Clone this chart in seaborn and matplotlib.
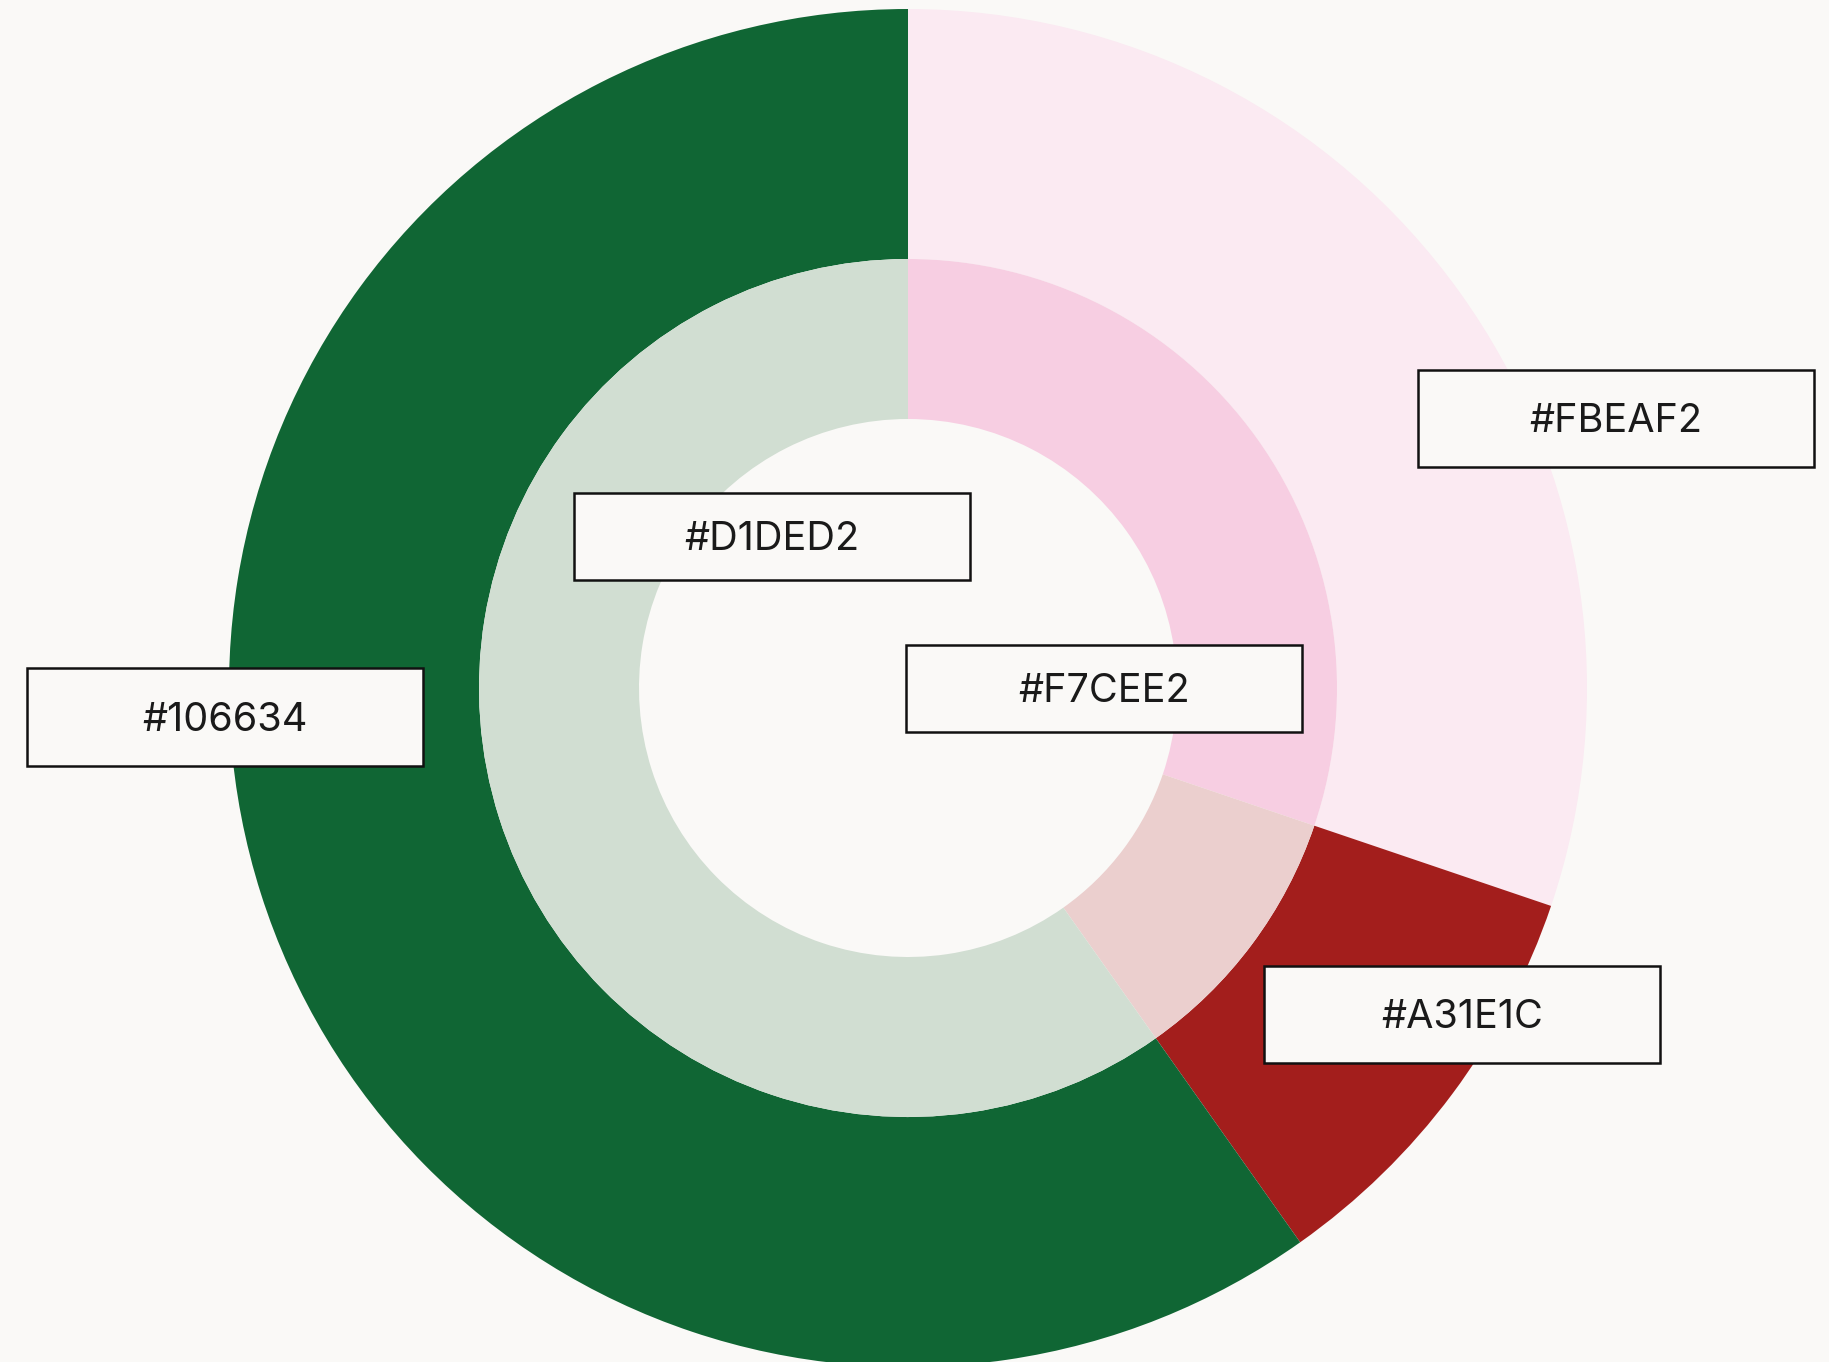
import matplotlib.pyplot as plt
import seaborn as sns
from matplotlib.patches import Rectangle

# data
outer_labels = ["#FBEAF2", "#A31E1C", "#106634"]
outer_values = [30.2, 10.0, 59.8]
outer_colors = ["#FBEAF2", "#A31E1C", "#106634"]

inner_labels = ["#F7CEE2", "#EBCFCE", "#D1DED2"]
inner_values = [30.2, 10.0, 59.8]
inner_colors = ["#F7CEE2", "#EBCFCE", "#D1DED2"]

# which labels get a box, and where (pixels from pie centre)
label_text = ["#FBEAF2", "#A31E1C", "#106634", "#D1DED2", "#F7CEE2"]
label_pos = [(708, 270), (554, -326), (-683, -29), (-136, 152), (196, 0)]
label_h = [97, 97, 98, 87, 87]

bg = "#FAF9F7"
W, H = 1829, 1362
cx, cy = 908, 688  # pie centre in image pixels (from top-left)

sns.set_theme(style="white", rc={"figure.facecolor": bg, "axes.facecolor": bg})
plt.rcParams["font.family"] = ["Inter", "DejaVu Sans"]

fig = plt.figure(figsize=(W / 100, H / 100), dpi=100)
ax = fig.add_axes([0, 0, 1, 1])

ax.pie(outer_values, colors=outer_colors, radius=679, startangle=90,
       counterclock=False, wedgeprops=dict(width=250, linewidth=0))
ax.pie(inner_values, colors=inner_colors, radius=429, startangle=90,
       counterclock=False, wedgeprops=dict(width=160, linewidth=0))

ax.set_xlim(-cx, W - cx)
ax.set_ylim(-(H - cy), cy)
ax.set_aspect("equal")
ax.axis("off")

box_w = 396
fs = 28.5
cap = 0.727 * fs * 100 / 72  # cap height in pixels
for txt, (x, y), h in zip(label_text, label_pos, label_h):
    ax.add_patch(Rectangle((x - box_w / 2, y - h / 2), box_w, h, facecolor=bg,
                           edgecolor="#111111", linewidth=1.8, zorder=5))
    ax.text(x, y - cap / 2, txt, ha="center", va="baseline", fontsize=fs,
            color="#1a1a1a", zorder=6)

plt.savefig("out.png", dpi=100, facecolor=bg)
